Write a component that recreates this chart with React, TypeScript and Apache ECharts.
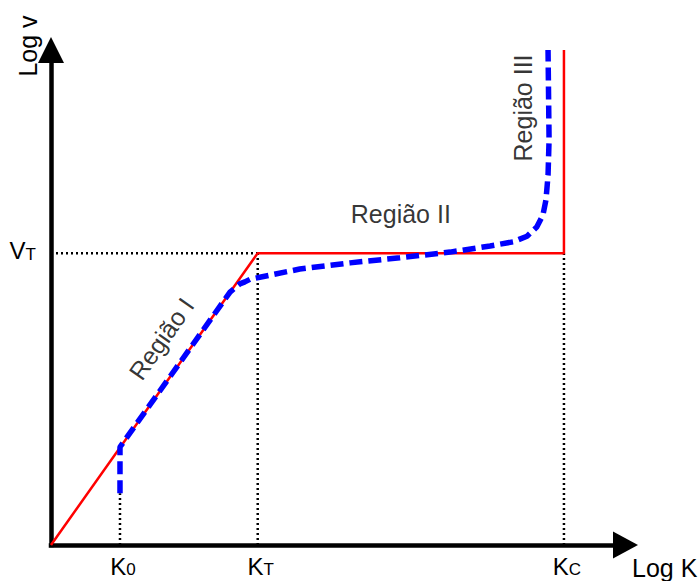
import { useEffect, useRef } from "react";
import * as echarts from "echarts";

// Characteristic values on the log-log diagram
const K0 = 1.345;
const KT = 4.03;
const KC = 10;
const VT = 5.69;
const V_TOP = 9.65;

const xTickValues = [K0, KT, KC];
const xTickMain = ["K", "K", "K"];
const xTickSub = ["0", "T", "C"];
const yTickValues = [VT];
const yTickMain = ["V"];
const yTickSub = ["T"];

// Ideal (red) curve
const idealX = [0, KT, KC, KC];
const idealY = [0, VT, VT, V_TOP];

// Real (blue dashed) curve
const realX = [1.345, 1.345, 3.49, 3.68, 3.78, 3.88, 4.07, 4.85, 5.83, 6.8, 7.78, 8.56, 9.01, 9.28, 9.47, 9.59, 9.65, 9.69, 9.71, 9.69];
const realY = [1.01, 1.91, 4.93, 5.09, 5.13, 5.18, 5.22, 5.38, 5.5, 5.6, 5.71, 5.83, 5.91, 6.02, 6.2, 6.43, 6.73, 7.21, 7.9, 9.65];

// Region labels
const regionNames = ["Região I", "Região II", "Região III"];
const regionX = [2.15, 6.82, 9.2];
const regionY = [4.02, 6.45, 8.52];
const regionRotate = [55, 0, 90];

const zip = (xs: number[], ys: number[]) => xs.map((x, i) => [x, ys[i]]);
const FONT = "'Liberation Sans', Arial, sans-serif";
const TEXT_SIZE = 25;

const tickRich = {
  m: { fontSize: 24, fontFamily: FONT, color: "#000", lineHeight: 26, verticalAlign: "bottom" },
  s: { fontSize: 17, fontFamily: FONT, color: "#000", lineHeight: 21, verticalAlign: "bottom" },
};

const findIdx = (vals: number[], v: number) => vals.findIndex((t) => Math.abs(t - v) < 1e-6);

const dotted = { color: "#000", width: 2.5, type: [2, 3] as number[] };

const option: any = {
  animation: false,
  grid: { left: 51, top: 50, width: 574.5, height: 495, outerBoundsMode: "none", containLabel: false },
  xAxis: {
    type: "value",
    min: 0,
    max: 11.2,
    splitLine: { show: false },
    axisTick: { show: false },
    axisLine: {
      show: true,
      symbol: ["none", "triangle"],
      symbolSize: [27, 25],
      lineStyle: { color: "#000", width: 4.5, cap: "square" },
    },
    axisLabel: {
      show: true,
      customValues: xTickValues,
      margin: 7,
      padding: [0, 0, 0, 6],
      formatter: (v: number) => {
        const i = findIdx(xTickValues, v);
        return i < 0 ? "" : `{m|${xTickMain[i]}}{s|${xTickSub[i]}}`;
      },
      rich: tickRich,
    },
  },
  yAxis: {
    type: "value",
    min: 0,
    max: V_TOP,
    splitLine: { show: false },
    axisTick: { show: false },
    axisLine: {
      show: true,
      symbol: ["none", "triangle"],
      symbolSize: [26, 26],
      lineStyle: { color: "#000", width: 4.5, cap: "square" },
    },
    axisLabel: {
      show: true,
      customValues: yTickValues,
      margin: 15,
      padding: [0, 0, 7, 0],
      formatter: (v: number) => {
        const i = findIdx(yTickValues, v);
        return i < 0 ? "" : `{m|${yTickMain[i]}}{s|${yTickSub[i]}}`;
      },
      rich: tickRich,
    },
  },
  graphic: [
    {
      type: "text",
      x: 28,
      y: 46,
      rotation: Math.PI / 2,
      style: { text: "Log v", fontSize: TEXT_SIZE, fontFamily: FONT, fill: "#000", align: "center", verticalAlign: "middle" },
    },
    {
      type: "text",
      x: 632,
      y: 568,
      style: { text: "Log K", fontSize: TEXT_SIZE, fontFamily: FONT, fill: "#000", align: "left", verticalAlign: "middle" },
    },
  ],
  series: [
    {
      type: "line",
      data: [[0, VT], [KT, VT]],
      symbol: "none",
      lineStyle: dotted,
      z: 1,
    },
    {
      type: "line",
      data: [[K0, 0], [K0, realY[0]]],
      symbol: "none",
      lineStyle: dotted,
      z: 1,
    },
    {
      type: "line",
      data: [[KT, 0], [KT, VT]],
      symbol: "none",
      lineStyle: dotted,
      z: 1,
    },
    {
      type: "line",
      data: [[KC, 0], [KC, VT]],
      symbol: "none",
      lineStyle: dotted,
      z: 1,
    },
    {
      type: "line",
      data: zip(idealX, idealY),
      symbol: "none",
      lineStyle: { color: "#ff0000", width: 2.5 },
      z: 2,
    },
    {
      type: "line",
      data: zip(realX, realY),
      symbol: "none",
      lineStyle: { color: "#0000ff", width: 5.5, type: [13, 6] },
      z: 3,
    },
    {
      type: "scatter",
      symbolSize: 0,
      clip: false,
      z: 4,
      data: regionNames.map((name, i) => ({
        value: [regionX[i], regionY[i]],
        label: {
          show: true,
          position: "inside",
          formatter: name,
          rotate: regionRotate[i],
          fontSize: TEXT_SIZE,
          fontFamily: FONT,
          color: "#000",
          textBorderWidth: 0,
          textBorderColor: "transparent",
        },
      })),
    },
  ],
};

export default function App() {
  const ref = useRef<HTMLDivElement>(null);
  useEffect(() => {
    document.body.style.margin = "0";
    const chart = echarts.init(ref.current!, null, { renderer: "svg" });
    chart.setOption(option);
    return () => chart.dispose();
  }, []);
  return <div ref={ref} style={{ width: 700, height: 581 }} />;
}
